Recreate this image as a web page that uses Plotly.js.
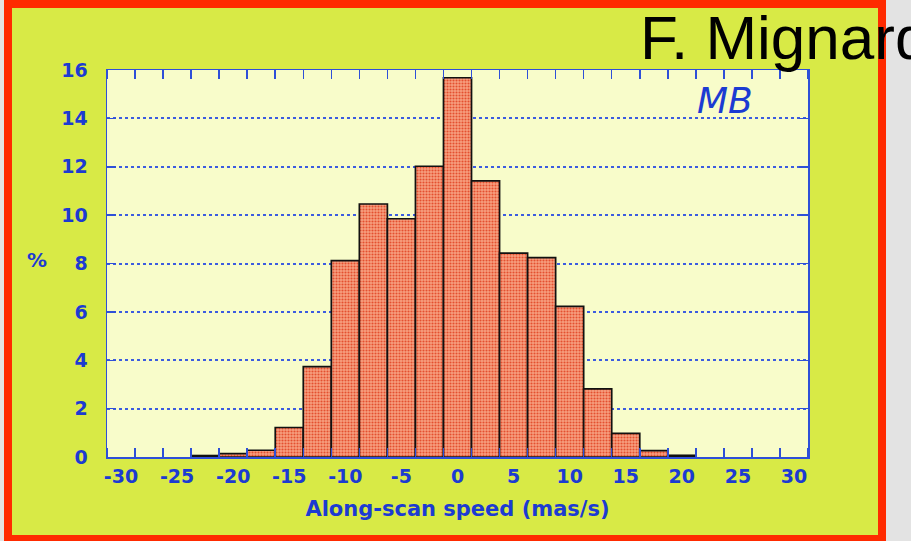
<!DOCTYPE html>
<html>
<head>
<meta charset="utf-8">
<script src="https://cdn.plot.ly/plotly-3.0.1.min.js"></script>
<style>
html,body{margin:0;padding:0;background:#e3e3e3;overflow:hidden;}
#chart{width:911px;height:541px;}
</style>
</head>
<body>
<div id="chart"></div>
<script>
// Data (bin centres, % per bin)
const binCenters = [-22.5, -20, -17.5, -15, -12.5, -10, -7.5, -5, -2.5, 0, 2.5, 5, 7.5, 10, 12.5, 15, 17.5, 20];
const percents   = [0.06, 0.14, 0.28, 1.22, 3.74, 8.12, 10.46, 9.85, 12.02, 15.68, 11.42, 8.43, 8.24, 6.23, 2.82, 0.98, 0.26, 0.07];
const binWidth = 2.5;
const xTickVals = [-30, -25, -20, -15, -10, -5, 0, 5, 10, 15, 20, 25, 30];
const xTickText = ['-30', '-25', '-20', '-15', '-10', '-5', '0', '5', '10', '15', '20', '25', '30'];
const yTickVals = [0, 2, 4, 6, 8, 10, 12, 14, 16];
const xTitle = 'Along-scan speed (mas/s)';
const yTitle = '%';
const tag = 'MB';
const author = 'F. Mignard';

const L = 107, T = 70, W = 701, H = 387;
const X = px => (px - L) / W;
const Y = py => (T + H - py) / H;

const blue = '#1c3bd2';
const axisBlue = '#2e4fd8';
const fam = 'DejaVu Sans';

const trace = {
  type: 'bar',
  x: binCenters,
  y: percents,
  width: binCenters.map(() => binWidth),
  marker: {
    color: '#f39070',
    line: {color: '#111', width: 1.7},
    pattern: {shape: '.', bgcolor: '#f7a080', fgcolor: '#e4502f', size: 3, solidity: 0.4}
  },
  hoverinfo: 'skip'
};

const layout = {
  width: 911, height: 541,
  margin: {l: L, r: 911 - L - W, t: T, b: 541 - T - H, pad: 0},
  paper_bgcolor: '#e3e3e3',
  plot_bgcolor: 'rgba(0,0,0,0)',
  showlegend: false,
  bargap: 0,
  xaxis: {
    range: [-31.25, 31.25],
    tickmode: 'array', tickvals: xTickVals, ticktext: xTickText,
    ticks: '', showgrid: false, zeroline: false,
    showline: true, linecolor: axisBlue, linewidth: 1.5, mirror: 'ticks',
    tickfont: {family: fam, color: blue, size: 19, weight: 'bold'},
    ticklabelstandoff: 2,
    minor: {tickmode: 'linear', tick0: -28.75, dtick: 2.5, ticks: 'inside', ticklen: 9, tickwidth: 1.5, tickcolor: axisBlue, showgrid: false},
    title: {text: xTitle, font: {family: fam, color: blue, size: 21, weight: 'bold'}, standoff: 15}
  },
  yaxis: {
    range: [0, 16],
    tickmode: 'array', tickvals: yTickVals,
    ticks: 'inside', ticklen: 9, tickwidth: 1.5, tickcolor: axisBlue,
    showgrid: true, gridcolor: '#3c5ce0', gridwidth: 2, griddash: '3px,3px',
    zeroline: false,
    showline: true, linecolor: axisBlue, linewidth: 1.5, mirror: 'ticks',
    tickfont: {family: fam, color: blue, size: 19, weight: 'bold'},
    ticklabelstandoff: 14
  },
  shapes: [
    {type: 'rect', xref: 'paper', yref: 'paper', layer: 'below',
     x0: X(8), x1: X(882), y0: Y(539), y1: Y(4),
     fillcolor: '#d8ea46', line: {color: '#ff2a00', width: 8}},
    {type: 'rect', xref: 'paper', yref: 'paper', layer: 'below',
     x0: 0, x1: 1, y0: 0, y1: 1, fillcolor: '#f8fcca', line: {width: 0}}
  ],
  annotations: [
    {xref: 'paper', yref: 'paper', x: X(37), y: Y(260), xanchor: 'center', yanchor: 'middle',
     text: yTitle, showarrow: false,
     font: {family: fam, color: blue, size: 20, weight: 'bold'}},
    {xref: 'paper', yref: 'paper', x: X(725), y: Y(100), xanchor: 'center', yanchor: 'middle',
     text: tag, showarrow: false,
     font: {family: fam, color: blue, size: 36, style: 'italic'}},
    {xref: 'paper', yref: 'paper', x: X(638), y: Y(37), xanchor: 'left', yanchor: 'middle',
     text: author, showarrow: false,
     font: {family: 'Liberation Sans', color: '#000', size: 62}}
  ]
};

Plotly.newPlot('chart', [trace], layout, {displayModeBar: false, staticPlot: true});
</script>
</body>
</html>
